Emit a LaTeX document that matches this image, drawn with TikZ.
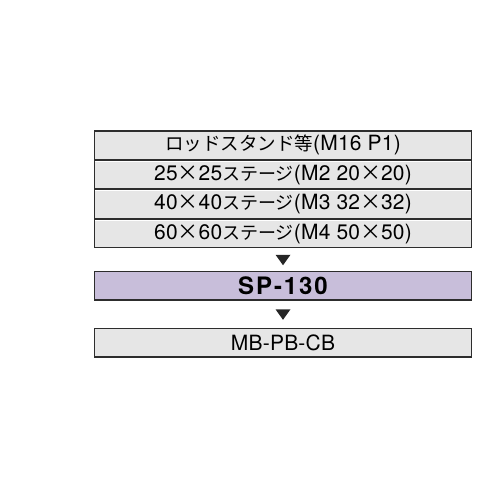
\documentclass[tikz,border=0pt]{standalone}
\usepackage{fontspec}
\setmainfont[LetterSpace=1]{TeX Gyre Heros}
\newfontfamily\jpfont{Noto Sans CJK JP}
\newfontfamily\spfont[LetterSpace=8]{TeX Gyre Heros}
\usetikzlibrary{positioning,calc}

\definecolor{rowgray}{RGB}{230,230,230}
\definecolor{spviolet}{RGB}{200,190,218}
\definecolor{edgegray}{RGB}{45,45,45}

\newcommand{\by}{{\jpfont ×}}

\tikzset{
  rowbox/.style={draw=edgegray, line width=1.2, fill=rowgray, minimum width=377, minimum height=28.3, inner sep=0pt, font=\fontsize{21}{21}\selectfont},
  spbox/.style={rowbox, fill=spviolet, font=\fontsize{24}{24}\spfont\bfseries},
  downtri/.style={fill=black!85}
}

\begin{document}
\begin{tikzpicture}[x=1pt,y=1pt,yscale=-1,xscale=1]
\useasboundingbox (0,0) rectangle (500,500);

%Stacked rows
\node [rowbox] (rod) at (283,145.15) {{\jpfont\fontsize{18.5}{18.5}\selectfont ロッドスタンド等}(M16 P1)};
\node [rowbox, below=0pt of rod] (st25) {25\by25{\jpfont\fontsize{18}{18}\selectfont ステージ}(M2 20\by20)};
\node [rowbox, below=0pt of st25] (st40) {40\by40{\jpfont\fontsize{18}{18}\selectfont ステージ}(M3 32\by32)};
\node [rowbox, below=0pt of st40] (st60) {60\by60{\jpfont\fontsize{18}{18}\selectfont ステージ}(M4 50\by50)};

%highlight under the row lines
\foreach \r in {rod,st25,st40}
  \draw [white, line width=0.8] ([shift={(1,1.4)}]\r.south west) -- ([shift={(-1,1.4)}]\r.south east);

% Middle box
\node [spbox] (sp) at (283,285.85) {SP-130};
% Bottom box
\node [rowbox] (mb) at (283,342.8) {MB-PB-CB};

%Triangles
\coordinate (tri1) at ($(st60.south)!0.5!(sp.north)$);
\coordinate (tri2) at ($(sp.south)!0.5!(mb.north)$);
\fill [downtri] ([shift={(-7.5,-5)}]tri1) -- ([shift={(7.5,-5)}]tri1) -- ([shift={(0,5.5)}]tri1) -- cycle;
\fill [downtri] ([shift={(-7.5,-5)}]tri2) -- ([shift={(7.5,-5)}]tri2) -- ([shift={(0,5.5)}]tri2) -- cycle;

\end{tikzpicture}
\end{document}
